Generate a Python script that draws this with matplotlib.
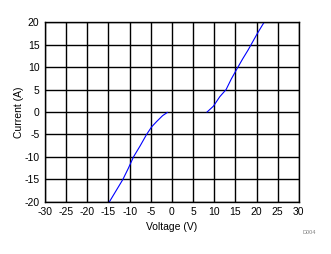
import matplotlib
matplotlib.use("Agg")
import matplotlib.pyplot as plt

# Curve (V, A)
neg_voltage = [-14.8, -13.2, -11.6, -10.3, -9.1, -7.5, -6.0, -4.8, -3.6, -2.2, -1.1]
neg_current = [-20.0, -17.5, -15.0, -12.5, -10.0, -7.5, -5.0, -3.3, -2.1, -0.8, -0.1]
pos_voltage = [8.3, 9.8, 11.3, 12.8, 14.0, 15.3, 16.7, 18.0, 20.2, 21.8]
pos_current = [0.0, 1.3, 3.4, 5.0, 7.3, 9.5, 11.8, 13.8, 17.5, 20.0]

x_ticks = list(range(-30, 31, 5))
y_ticks = list(range(-20, 21, 5))

plt.rcParams["font.family"] = ["Liberation Sans", "DejaVu Sans"]
plt.rcParams["axes.unicode_minus"] = False

fig = plt.figure(figsize=(3.31, 2.54), dpi=100)
ax = fig.add_axes([0.136, 0.205, 0.767, 0.708])

ax.plot(neg_voltage, neg_current, color="#0000ff", lw=0.8)
ax.plot(pos_voltage, pos_current, color="#0000ff", lw=0.8)

ax.set_xlim(-30, 30)
ax.set_ylim(-20, 20)
ax.set_xticks(x_ticks)
ax.set_yticks(y_ticks)
ax.tick_params(length=0, labelsize=7.5, pad=4)
ax.grid(True, color="black", lw=1.0)
for sp in ax.spines.values():
    sp.set_color("black")
    sp.set_linewidth(1.0)

ax.set_xlabel("Voltage (V)", fontsize=7.5, labelpad=3)
ax.set_ylabel("Current (A)", fontsize=7.5, labelpad=0.5)

fig.text(0.955, 0.083, "D004", fontsize=4, color="#808080", ha="right", va="center")

fig.savefig("out.png", dpi=100)
